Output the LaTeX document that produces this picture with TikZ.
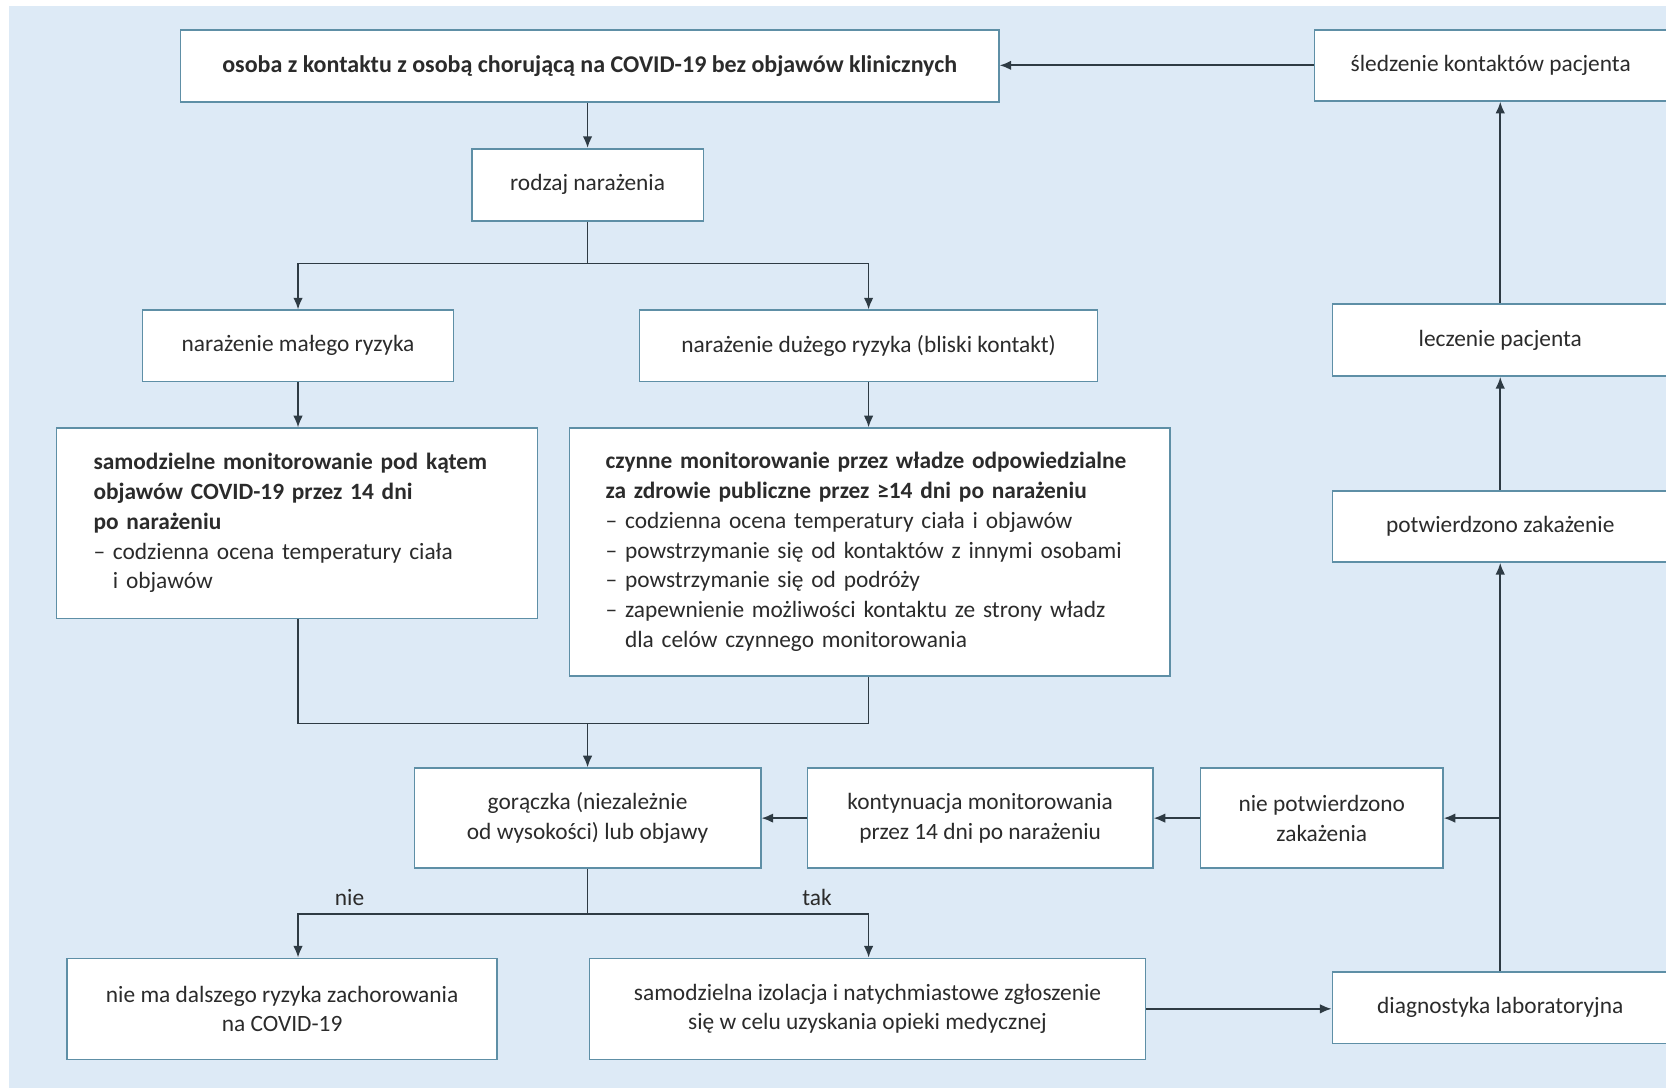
\documentclass[tikz,border=0pt]{standalone}
\usepackage{fontspec}
\setmainfont{Carlito}
\usetikzlibrary{arrows.meta}
\definecolor{bgblue}{HTML}{DDEAF6}
\definecolor{boxline}{HTML}{5E8FA6}
\definecolor{connc}{HTML}{2E3B44}
\definecolor{txt}{HTML}{2B2B2B}
\begin{document}
\begin{tikzpicture}[x=1pt,y=-1pt,
 box/.style={draw=boxline,line width=1.5pt,fill=white,inner sep=0pt,align=center,text=txt,font=\fontsize{22}{28}\selectfont},
 lbox/.style={box,align=left},
 conn/.style={draw=connc,line width=1.6pt},
 arr/.style={conn,-{Latex[length=11pt,width=9pt]}},
 lab/.style={text=txt,font=\fontsize{22}{28}\selectfont,inner sep=0pt}]
\useasboundingbox (0,0) rectangle (1568,1024);
\fill[white] (0,0) rectangle (1568,1024);
\fill[bgblue] (8,6) rectangle (1568,1024);

\node[box,minimum width=770pt,minimum height=68pt] (A) at (555,62) {\fontsize{22.6}{28}\selectfont\textbf{osoba z kontaktu z osobą chorującą na COVID-19 bez objawów klinicznych}};
\node[box,minimum width=332pt,minimum height=67pt] (B) at (1403,61.5) {śledzenie kontaktów pacjenta};
\node[box,minimum width=218pt,minimum height=68pt] (C) at (553,174) {rodzaj narażenia};
\node[box,minimum width=293pt,minimum height=67pt] (D) at (280.5,325.5) {narażenie małego ryzyka};
\node[box,minimum width=431pt,minimum height=67pt] (E) at (817.5,325.5) {narażenie dużego ryzyka (bliski kontakt)};
\node[box,minimum width=316pt,minimum height=68pt] (F) at (1412,320) {leczenie pacjenta};
\node[lbox,inner xsep=35pt,minimum width=453pt,minimum height=179pt,text width=383pt] (G) at (279.5,492.5) {\textbf{samodzielne monitorowanie pod kątem}\\\textbf{objawów COVID-19 przez 14 dni}\\\textbf{po narażeniu}\\– codzienna ocena temperatury ciała\\\phantom{– }i objawów};
\node[lbox,inner xsep=34pt,minimum width=565pt,minimum height=233pt,text width=497pt] (H) at (818.5,519.5) {\textbf{czynne monitorowanie przez władze odpowiedzialne}\\\textbf{za zdrowie publiczne przez ≥14 dni po narażeniu}\\– codzienna ocena temperatury ciała i objawów\\– powstrzymanie się od kontaktów z innymi osobami\\– powstrzymanie się od podróży\\– zapewnienie możliwości kontaktu ze strony władz\\\phantom{– }dla celów czynnego monitorowania};
\node[box,minimum width=316pt,minimum height=67pt] (I) at (1412,495.5) {potwierdzono zakażenie};
\node[box,minimum width=326pt,minimum height=94pt] (J) at (553,770) {gorączka (niezależnie\\od wysokości) lub objawy};
\node[box,minimum width=325pt,minimum height=94pt] (K) at (922.5,770) {kontynuacja monitorowania\\przez 14 dni po narażeniu};
\node[box,minimum width=228pt,minimum height=94pt] (L) at (1244,770) {nie potwierdzono\\zakażenia};
\node[box,minimum width=405pt,minimum height=95pt] (M) at (265.5,949.5) {nie ma dalszego ryzyka zachorowania\\na COVID-19};
\node[box,minimum width=523pt,minimum height=95pt] (N) at (816.5,949.5) {samodzielna izolacja i natychmiastowe zgłoszenie\\się w celu uzyskania opieki medycznej};
\node[box,minimum width=316pt,minimum height=67pt] (O) at (1412,948.5) {diagnostyka laboratoryjna};

\node[lab] (nie) at (329,845) {nie};
\node[lab] (tak) at (769,845) {tak};

\coordinate (c1) at (553,248);
\coordinate (m1) at (553,681);
\coordinate (j1) at (553,860);

\draw[arr] (B.west) -- (A.east |- B.west);
\draw[arr] (A.south -| C.north) -- (C.north);
\draw[conn] (C.south) -- (c1);
\draw[arr] (c1) -| (D.north);
\draw[arr] (c1) -| (E.north);
\draw[arr] (D.south) -- (G.north -| D.south);
\draw[arr] (E.south) -- (H.north -| E.south);
\draw[conn] (G.south -| D.south) |- (m1) -| (H.south -| E.south);
\draw[arr] (m1) -- (J.north);
\draw[conn] (J.south) -- (j1);
\draw[arr] (j1) -| (M.north -| D.south);
\draw[arr] (j1) -| (N.north -| E.south);
\draw[arr] (N.east) -- (O.west |- N.east);
\draw[arr] (O.north) -- (I.south);
\draw[arr] (O.north |- L.east) -- (L.east);
\draw[arr] (L.west) -- (K.east);
\draw[arr] (K.west) -- (J.east);
\draw[arr] (I.north) -- (F.south);
\draw[arr] (F.north) -- (B.south -| F.north);
\end{tikzpicture}
\end{document}
